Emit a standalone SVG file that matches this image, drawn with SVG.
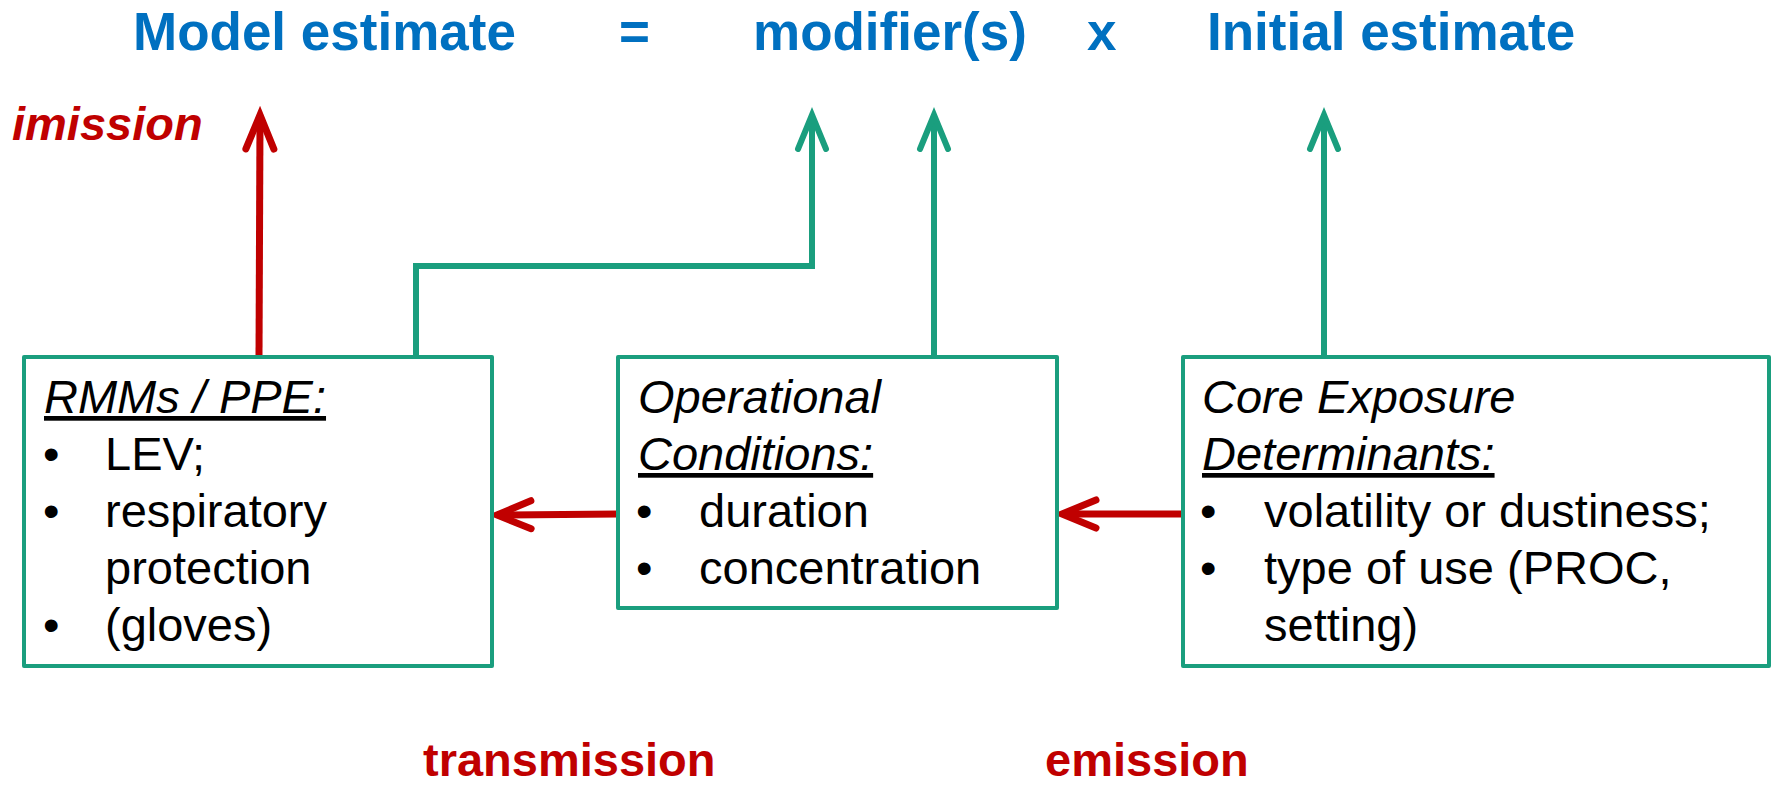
<svg xmlns="http://www.w3.org/2000/svg" width="1774" height="787" viewBox="0 0 1774 787">
  <style>
    .title { font-family: "Liberation Sans", Arial, sans-serif; font-weight: bold; font-size: 53px; fill: #0070C0; }
    .flow { font-family: "Liberation Sans", Arial, sans-serif; font-weight: bold; font-size: 47px; fill: #C00000; }
    .body { font-family: "Liberation Sans", Arial, sans-serif; font-size: 47px; fill: #000000; }
    .head { font-style: italic; }
    .ul { text-decoration: underline; }
    .box { fill: #FFFFFF; stroke: #1A9E7E; stroke-width: 4; stroke-linejoin: round; }
    .teal { fill: none; stroke: #1A9E7E; stroke-width: 6; }
    .red { fill: none; stroke: #C00000; stroke-width: 7; }
  </style>
  <defs>
    <marker id="headTeal" markerUnits="userSpaceOnUse" markerWidth="80" markerHeight="80" refX="0" refY="0" orient="auto" overflow="visible">
      <path d="M-30,-14 L4,0 L-30,14" fill="none" stroke="#1A9E7E" stroke-width="6" stroke-linecap="round" stroke-linejoin="miter"/>
    </marker>
    <marker id="headRed" markerUnits="userSpaceOnUse" markerWidth="80" markerHeight="80" refX="0" refY="0" orient="auto" overflow="visible">
      <path d="M-30,-14 L4,0 L-30,14" fill="none" stroke="#C00000" stroke-width="7" stroke-linecap="round" stroke-linejoin="miter"/>
    </marker>
  </defs>

  <!-- equation line -->
  <g id="equation">
    <text class="title" x="133" y="50">Model estimate</text>
    <text class="title" x="619" y="50">=</text>
    <text class="title" x="753" y="50">modifier(s)</text>
    <text class="title" x="1087" y="50">x</text>
    <text class="title" x="1207" y="50">Initial estimate</text>
  </g>

  <!-- flow labels -->
  <g id="labels">
    <text class="flow" font-style="italic" x="12" y="140" font-size="48">imission</text>
    <text class="flow" x="423" y="776">transmission</text>
    <text class="flow" x="1045" y="776">emission</text>
  </g>

  <!-- connectors -->
  <g id="connectors">
    <line class="red" x1="259" y1="357" x2="260" y2="119" marker-end="url(#headRed)"/>
    <polyline class="teal" points="416,357 416,266 812,266 812,119" marker-end="url(#headTeal)"/>
    <line class="teal" x1="934" y1="357" x2="934" y2="119" marker-end="url(#headTeal)"/>
    <line class="teal" x1="1324" y1="357" x2="1324" y2="119" marker-end="url(#headTeal)"/>
    <line class="red" x1="1183" y1="514" x2="1066" y2="514" marker-end="url(#headRed)"/>
    <line class="red" x1="618" y1="514" x2="501" y2="515" marker-end="url(#headRed)"/>
  </g>

  <!-- RMMs / PPE -->
  <g id="rmm">
    <rect class="box" x="24" y="357" width="468" height="309"/>
    <text class="body head ul" x="44" y="413">RMMs / PPE:</text>
    <text class="body" x="43" y="470">•</text>
    <text class="body" x="105" y="470">LEV;</text>
    <text class="body" x="43" y="527">•</text>
    <text class="body" x="105" y="527">respiratory</text>
    <text class="body" x="105" y="584">protection</text>
    <text class="body" x="43" y="641">•</text>
    <text class="body" x="105" y="641">(gloves)</text>
  </g>

  <!-- Operational Conditions -->
  <g id="operational">
    <rect class="box" x="618" y="357" width="439" height="251"/>
    <text class="body head" x="638" y="413">Operational</text>
    <text class="body head ul" x="638" y="470">Conditions:</text>
    <text class="body" x="636" y="527">•</text>
    <text class="body" x="699" y="527">duration</text>
    <text class="body" x="636" y="584">•</text>
    <text class="body" x="699" y="584">concentration</text>
  </g>

  <!-- Core Exposure Determinants -->
  <g id="core">
    <rect class="box" x="1183" y="357" width="586" height="309"/>
    <text class="body head" x="1202" y="413">Core Exposure</text>
    <text class="body head ul" x="1202" y="470">Determinants:</text>
    <text class="body" x="1200" y="527">•</text>
    <text class="body" x="1264" y="527">volatility or dustiness;</text>
    <text class="body" x="1200" y="584">•</text>
    <text class="body" x="1264" y="584">type of use (PROC,</text>
    <text class="body" x="1264" y="641">setting)</text>
  </g>
</svg>
